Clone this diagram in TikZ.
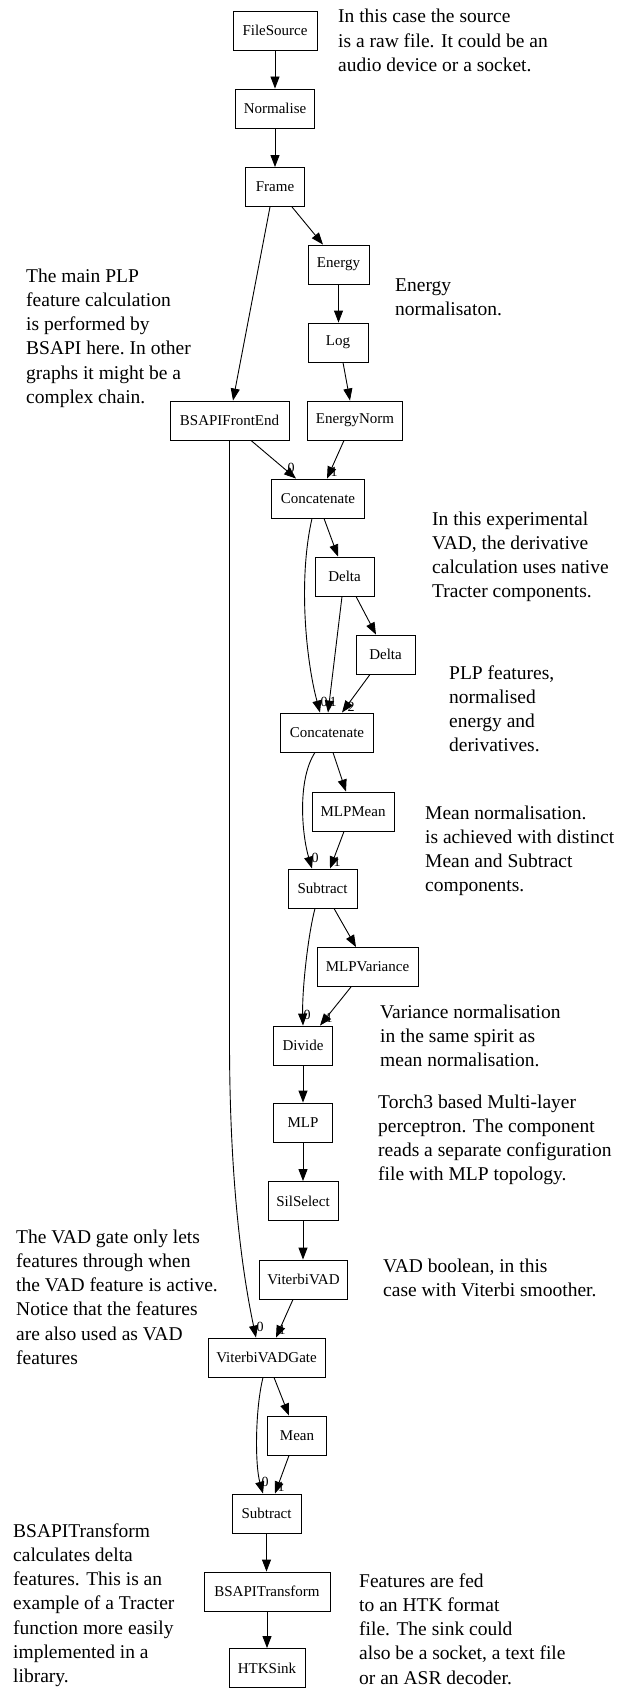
\documentclass[tikz,border=0pt]{standalone}
\usepackage{fontspec}
\setmainfont{Liberation Serif}
\usetikzlibrary{arrows.meta,calc}
\newcommand\annlines[1]{\begin{tabular}[t]{@{}l@{}}#1\end{tabular}}
\begin{document}
\begin{tikzpicture}[x=1pt,y=-1pt,
  box/.style={draw, line width=0.9pt, rectangle, minimum height=39pt, inner sep=2pt, font=\fontsize{15}{18}\selectfont},
  arr/.style={line width=0.9pt, -{Triangle[length=12pt,width=9pt]}},
  ann/.style={anchor=base west, inner sep=0pt, font=\fontsize{19.5}{24.3}\selectfont},
  port/.style={inner sep=0pt, font=\fontsize{14}{16}\selectfont}]
\useasboundingbox (0,0) rectangle (624,1688);

% nodes
\node[box, minimum width=84pt] (fs) at (275,30.5) {FileSource};
\node[box, minimum width=79pt] (nrm) at (275,108.5) {Normalise};
\node[box, minimum width=59pt] (frm) at (275,187) {Frame};
\node[box, minimum width=61pt] (en) at (338.5,264.5) {Energy};
\node[box, minimum width=60pt] (log) at (338,342.5) {Log};
\node[box, minimum width=119pt] (bfe) at (229.5,420.5) {BSAPIFrontEnd};
\node[box, minimum width=95pt] (enn) at (355,420.5) {EnergyNorm};
\node[box, minimum width=93pt] (c1) at (318,498.5) {Concatenate};
\node[box, minimum width=59pt] (d1) at (344.5,576.5) {Delta};
\node[box, minimum width=59pt] (d2) at (385.5,654.5) {Delta};
\node[box, minimum width=93pt] (c2) at (327,732.5) {Concatenate};
\node[box, minimum width=82pt] (mm) at (353,811.5) {MLPMean};
\node[box, minimum width=69pt] (s1) at (322.5,888.5) {Subtract};
\node[box, minimum width=101pt] (mv) at (367.5,967) {MLPVariance};
\node[box, minimum width=59pt] (div) at (303,1045.5) {Divide};
\node[box, minimum width=59pt] (mlp) at (303,1122.5) {MLP};
\node[box, minimum width=70pt] (ss) at (303,1201) {SilSelect};
\node[box, minimum width=88pt] (vv) at (303.5,1279.5) {ViterbiVAD};
\node[box, minimum width=117pt] (vvg) at (266.5,1357.5) {ViterbiVADGate};
\node[box, minimum width=59pt] (mean) at (297,1435.5) {Mean};
\node[box, minimum width=69pt] (s2) at (266.5,1513.5) {Subtract};
\node[box, minimum width=126pt] (bt) at (267,1591.5) {BSAPITransform};
\node[box, minimum width=76pt] (htk) at (267,1668) {HTKSink};

% edges
\draw[arr] (fs) -- (nrm);
\draw[arr] (nrm) -- (frm);
\draw[arr] ([xshift=17pt]frm.south) -- ([xshift=-15.5pt]en.north);
\draw[arr] ([xshift=-5pt]frm.south) -- ([xshift=3.5pt]bfe.north);
\draw[arr] (en.south) -- (en.south |- log.north);
\draw[arr] ([xshift=5pt]log.south) -- ([xshift=-5pt]enn.north);
\draw[arr] ([xshift=21.5pt]bfe.south) -- ([xshift=-22pt]c1.north);
\draw[arr] ([xshift=-11pt]enn.south) -- ([xshift=9pt]c1.north);
\draw[arr] ([xshift=6pt]c1.south) -- ([xshift=-6.5pt]d1.north);
\draw[arr] ([xshift=-6pt]c1.south) .. controls (298,580) and (306,660) .. ([xshift=-7pt]c2.north);
\draw[arr] ([xshift=-2.5pt]d1.south) -- ([xshift=1pt]c2.north);
\draw[arr] ([xshift=11.5pt]d1.south) -- ([xshift=-9.5pt]d2.north);
\draw[arr] ([xshift=-15.5pt]d2.south) -- ([xshift=15pt]c2.north);
\draw[arr] ([xshift=6pt]c2.south) -- ([xshift=-7pt]mm.north);
\draw[arr] ([xshift=-12pt]c2.south) .. controls (297,780) and (302,835) .. ([xshift=-10.5pt]s1.north);
\draw[arr] ([xshift=-9pt]mm.south) -- ([xshift=7.5pt]s1.north);
\draw[arr] ([xshift=11.5pt]s1.south) -- ([xshift=-11.5pt]mv.north);
\draw[arr] ([xshift=-7.5pt]s1.south) .. controls (308,935) and (302,990) .. (div.north);
\draw[arr] ([xshift=-16.5pt]mv.south) -- ([xshift=17pt]div.north);
\draw[arr] (div) -- (mlp);
\draw[arr] (mlp) -- (ss);
\draw[arr] (ss.south) -- (ss.south |- vv.north);
\draw[arr] (bfe.south) -- ([yshift=-600pt]bfe.south) .. controls (229.5,1200) and (246,1290) .. ([xshift=-10.5pt]vvg.north);
\draw[arr] ([xshift=-10.5pt]vv.south) -- ([xshift=9.5pt]vvg.north);
\draw[arr] ([xshift=7.5pt]vvg.south) -- ([xshift=-8pt]mean.north);
\draw[arr] ([xshift=-3.5pt]vvg.south) .. controls (255,1410) and (255,1465) .. ([xshift=-3.5pt]s2.north);
\draw[arr] ([xshift=-8pt]mean.south) -- ([xshift=8.5pt]s2.north);
\draw[arr] (s2.south) -- (s2.south |- bt.north);
\draw[arr] (bt) -- (htk);

% port labels
\node[port] (p1) at (291,468) {0};
\node[port] (p2) at (334,472) {1};
\node[port] (p3) at (324,702) {0};
\node[port] (p4) at (333,702) {1};
\node[port] (p5) at (351,707) {2};
\node[port] (p6) at (315,858) {0};
\node[port] (p7) at (337,862) {1};
\node[port] (p8) at (307,1015) {0};
\node[port] (p9) at (329,1018) {1};
\node[port] (p10) at (260,1327) {0};
\node[port] (p11) at (282,1330) {1};
\node[port] (p12) at (265,1482) {0};
\node[port] (p13) at (281,1487) {1};

% annotations
\node[ann] (a1) at (338,23) {\annlines{In this case the source\\is a raw file.  It could be an\\audio device or a socket.}};
\node[ann] (a2) at (26,282) {\annlines{The main PLP\\feature calculation\\is performed by\\BSAPI here.\  In other\\graphs it might be a\\complex chain.}};
\node[ann] (a3) at (395,291) {\annlines{Energy\\normalisaton.}};
\node[ann] (a4) at (432,525) {\annlines{In this experimental\\VAD, the derivative\\calculation uses native\\Tracter components.}};
\node[ann] (a5) at (449,679) {\annlines{PLP features,\\normalised\\energy and\\derivatives.}};
\node[ann] (a6) at (425,819) {\annlines{Mean normalisation.\\is achieved with distinct\\Mean and Subtract\\components.}};
\node[ann] (a7) at (380,1018) {\annlines{Variance normalisation\\in the same spirit as\\mean normalisation.}};
\node[ann] (a8) at (378,1108) {\annlines{Torch3 based Multi-layer\\perceptron.  The component\\reads a separate configuration\\file with MLP topology.}};
\node[ann] (a9) at (16,1243) {\annlines{The VAD gate only lets\\features through when\\the VAD feature is active.\\Notice that the features\\are also used as VAD\\features}};
\node[ann] (a10) at (383,1272) {\annlines{VAD boolean, in this\\case with Viterbi smoother.}};
\node[ann] (a11) at (13,1537) {\annlines{BSAPITransform\\calculates delta\\features.  This is an\\example of a Tracter\\function more easily\\implemented in a\\library.}};
\node[ann] (a12) at (359,1587) {\annlines{Features are fed\\to an HTK format\\file.  The sink could\\also be a socket, a text file\\or an ASR decoder.}};
\end{tikzpicture}
\end{document}
